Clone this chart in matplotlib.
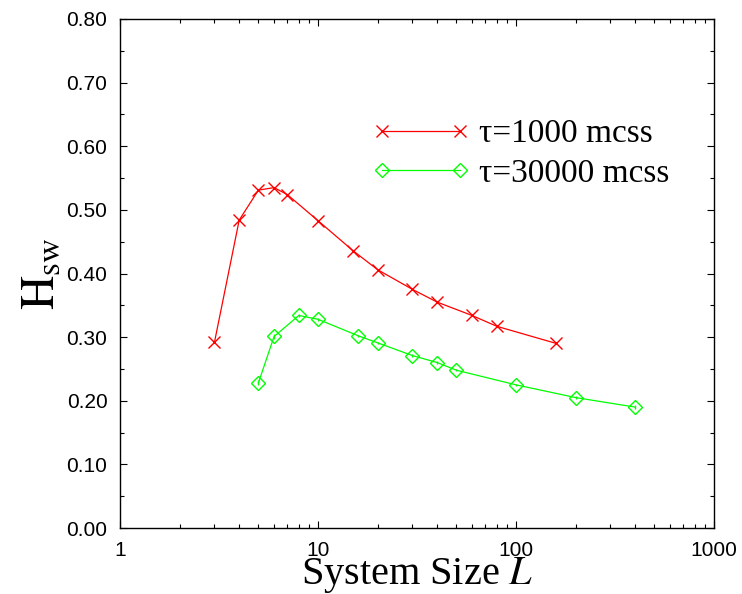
import matplotlib
matplotlib.use("Agg")
import matplotlib.pyplot as plt
from matplotlib.lines import Line2D
from matplotlib.legend_handler import HandlerLine2D
from matplotlib.ticker import FixedLocator, FixedFormatter, LogLocator, NullFormatter, MultipleLocator

plt.rcParams["mathtext.fontset"] = "stix"

# H_sw against system size for two relaxation times
L_short = [3, 4, 5, 6, 7, 10, 15, 20, 30, 40, 60, 80, 160]
H_short = [0.292, 0.484, 0.531, 0.535, 0.524, 0.483, 0.436, 0.406, 0.375, 0.355, 0.334, 0.317, 0.290]

L_long = [5, 6, 8, 10, 16, 20, 30, 40, 50, 100, 200, 400]
H_long = [0.228, 0.301, 0.334, 0.328, 0.302, 0.291, 0.271, 0.260, 0.248, 0.225, 0.205, 0.190]
H_long_err = [0.004, 0.004, 0.002, 0.002, 0.002, 0.002, 0.002, 0.002, 0.002, 0.002, 0.002, 0.003]

labels = ["τ=1000 mcss", "τ=30000 mcss"]
x_ticks = [1, 10, 100, 1000]
y_ticks = [0.0, 0.1, 0.2, 0.3, 0.4, 0.5, 0.6, 0.7, 0.8]

red = "#ff0000"
green = "#00ff00"

fig = plt.figure(figsize=(7.42, 5.94), dpi=100)
ax = fig.add_axes([120 / 742, 1 - 528 / 594, 594 / 742, 509 / 594])

ax.plot(L_short, H_short, color=red, lw=0.9, marker="x", ms=9, mew=1.0,
        label=labels[0])
ax.plot(L_long, H_long, color=green, lw=0.9, marker="D", ms=7.5, mew=1.0,
        mfc="none", label=labels[1])
# small error bars sit inside the diamonds
ax.errorbar(L_long, H_long, yerr=H_long_err, fmt="none", ecolor=green,
            elinewidth=1.0, capsize=0)

ax.set_xscale("log")
ax.set_xlim(1, 1000)
ax.set_ylim(0, 0.8)

ax.xaxis.set_major_locator(FixedLocator(x_ticks))
ax.xaxis.set_major_formatter(FixedFormatter([str(v) for v in x_ticks]))
ax.xaxis.set_minor_locator(LogLocator(base=10, subs=range(2, 10)))
ax.xaxis.set_minor_formatter(NullFormatter())
ax.yaxis.set_major_locator(FixedLocator(y_ticks))
ax.yaxis.set_major_formatter(FixedFormatter([f"{v:.2f}" for v in y_ticks]))
ax.yaxis.set_minor_locator(MultipleLocator(0.05))

ax.tick_params(which="both", direction="in", top=True, right=True, width=0.8)
ax.tick_params(which="major", length=5, pad=9, labelsize=15)
ax.tick_params(which="minor", length=3)
for lab in ax.get_xticklabels() + ax.get_yticklabels():
    lab.set_fontfamily("Liberation Sans")
for sp in ax.spines.values():
    sp.set_linewidth(1.0)

ax.set_xlabel("System Size $L$", family="Liberation Serif", fontsize=29, labelpad=-3)
ax.set_ylabel(r"$\mathrm{H}_{\mathrm{sw}}$", fontsize=34, labelpad=2)

# markers at the very ends of the legend lines
leg = ax.legend(loc="center left", bbox_to_anchor=(0.441, 0.735), frameon=False,
                borderpad=0, borderaxespad=0,
                numpoints=2, handlelength=2.33, handletextpad=0.57, labelspacing=0.28,
                handler_map={Line2D: HandlerLine2D(marker_pad=0)},
                prop={"family": "Liberation Serif", "size": 24})

fig.savefig("out.png", dpi=100)
